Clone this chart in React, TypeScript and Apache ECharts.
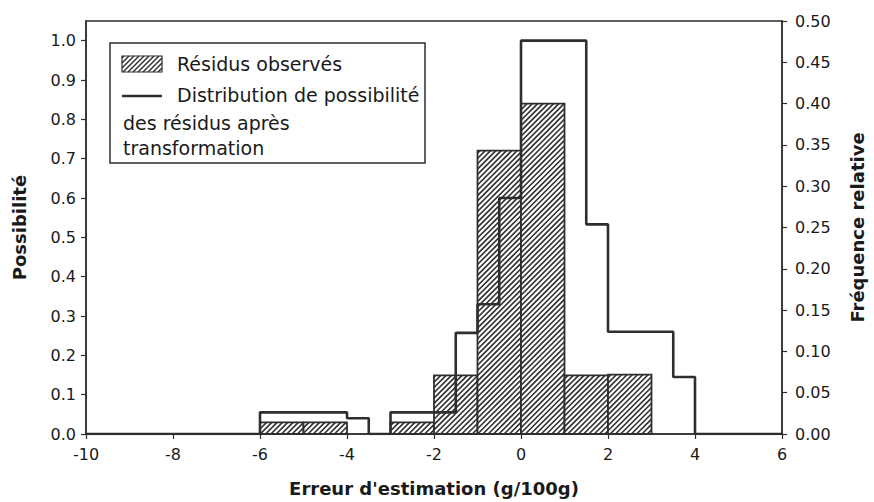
import React, { useEffect, useRef } from "react";
import * as echarts from "echarts";

// Observed residuals histogram (relative frequency, right axis)
const barStarts = [-6, -5, -3, -2, -1, 0, 1, 2];
const barEnds = [-5, -4, -2, -1, 0, 1, 2, 3];
const relFreq = [0.014, 0.014, 0.014, 0.071, 0.343, 0.4, 0.071, 0.072];

// Possibility distribution after transformation (step, left axis)
const stepX = [-10, -6, -4, -3.5, -3, -1.5, -1, -0.5, 0, 1.5, 2, 3.5, 4, 6];
const possibility = [0, 0.055, 0.04, 0, 0.055, 0.257, 0.33, 0.6, 1.0, 0.533, 0.26, 0.145, 0, 0];

const xTicks = { min: -10, max: 6, interval: 2 };
const leftTicks = { min: 0, max: 1.05, interval: 0.1 };
const rightTicks = { min: 0, max: 0.5, interval: 0.05 };

const xTitle = "Erreur d'estimation (g/100g)";
const leftTitle = "Possibilité";
const rightTitle = "Fréquence relative";
const legendBars = "Résidus observés";
const legendLine = ["Distribution de possibilité", "des résidus après", "transformation"];

const INK = "#2e2e2e";
const TXT = "#1a1a1a";
const FONT = "DejaVu Sans";

function hatchLines(left: number, top: number, right: number, bottom: number, s: number, lw: number) {
  const out: any[] = [];
  const cStart = Math.floor((left + top) / s) * s;
  for (let c = cStart; c <= right + bottom + s; c += s) {
    const xa = Math.max(left, c - bottom);
    const xb = Math.min(right, c - top);
    if (xb - xa > 0.3) {
      out.push({
        type: "line",
        shape: { x1: xa, y1: c - xa, x2: xb, y2: c - xb },
        style: { stroke: INK, lineWidth: lw },
        silent: true,
      });
    }
  }
  return out;
}

export default function App() {
  const ref = useRef<HTMLDivElement>(null);
  useEffect(() => {
    if (!ref.current) return;
    const chart = echarts.init(ref.current, null, { renderer: "svg" });
    const barData = barStarts.map((s, i) => [s, barEnds[i], relFreq[i]]);
    const lineData = stepX.map((x, i) => [x, possibility[i]]);

    const lgX = 110, lgY = 43;
    const legendChildren: any[] = [
      { type: "rect", shape: { x: lgX, y: lgY, width: 315, height: 120 }, style: { fill: "#fff", stroke: INK, lineWidth: 1.5 } },
      { type: "rect", shape: { x: 122, y: 56, width: 40, height: 16 }, style: { fill: "#fff", stroke: INK, lineWidth: 1.2 } },
      ...hatchLines(122, 56, 162, 72, 5, 1.5),
      { type: "text", x: 177, y: 64, style: { text: legendBars, font: `19px "${FONT}"`, fill: TXT, textVerticalAlign: "middle" } },
      { type: "line", shape: { x1: 122, y1: 96, x2: 162, y2: 96 }, style: { stroke: INK, lineWidth: 2.5 } },
      { type: "text", x: 177, y: 95, style: { text: legendLine[0], font: `19px "${FONT}"`, fill: TXT, textVerticalAlign: "middle" } },
      { type: "text", x: 123, y: 123, style: { text: legendLine[1], font: `19px "${FONT}"`, fill: TXT, textVerticalAlign: "middle" } },
      { type: "text", x: 123, y: 148, style: { text: legendLine[2], font: `19px "${FONT}"`, fill: TXT, textVerticalAlign: "middle" } },
    ];

    const axisCommon = {
      axisLine: { show: true, onZero: false, lineStyle: { color: INK, width: 1.5 } },
      axisTick: { show: true, inside: false, length: 5, lineStyle: { color: INK, width: 1.2 } },
      splitLine: { show: false },
      nameLocation: "middle" as const,
      nameTextStyle: { fontFamily: FONT, fontWeight: "bold", fontSize: 18, color: TXT },
    };

    chart.setOption({
      animation: false,
      backgroundColor: "#fff",
      grid: { left: 86, right: 89, top: 21, bottom: 68, show: true, borderColor: INK, borderWidth: 1.5, backgroundColor: "transparent" },
      xAxis: {
        type: "value",
        ...xTicks,
        ...axisCommon,
        name: xTitle,
        nameGap: 45,
        axisLabel: { fontFamily: FONT, fontSize: 16, color: TXT, margin: 12 },
      },
      yAxis: [
        {
          type: "value",
          position: "left",
          ...leftTicks,
          ...axisCommon,
          name: leftTitle,
          nameGap: 58,
          nameRotate: 90,
          axisLabel: {
            fontFamily: FONT, fontSize: 16, color: TXT, margin: 10, showMaxLabel: false,
            formatter: (v: number) => (v > 1.001 ? "" : v.toFixed(1)),
          },
        },
        {
          type: "value",
          position: "right",
          ...rightTicks,
          ...axisCommon,
          name: rightTitle,
          nameGap: 66,
          nameRotate: 90,
          axisLabel: { fontFamily: FONT, fontSize: 16, color: TXT, margin: 13, formatter: (v: number) => v.toFixed(2) },
        },
      ],
      series: [
        {
          type: "custom",
          name: legendBars,
          yAxisIndex: 1,
          encode: { x: [0, 1], y: 2 },
          data: barData,
          z: 2,
          renderItem: (params: any, api: any) => {
            const p0 = api.coord([api.value(0), 0]);
            const p1 = api.coord([api.value(1), api.value(2)]);
            const left = p0[0], bottom = p0[1], right = p1[0], top = p1[1];
            return {
              type: "group",
              children: [
                { type: "rect", shape: { x: left, y: top, width: right - left, height: bottom - top }, style: { fill: "#fff", stroke: null } },
                ...hatchLines(left, top, right, bottom, 5.3, 1.6),
                { type: "rect", shape: { x: left, y: top, width: right - left, height: bottom - top }, style: { fill: "none", stroke: INK, lineWidth: 1.8 } },
              ],
            };
          },
        },
        {
          type: "line",
          name: legendLine.join(" "),
          yAxisIndex: 0,
          data: lineData,
          step: "end",
          symbol: "none",
          z: 3,
          lineStyle: { color: INK, width: 2.6 },
        },
      ],
      graphic: [{ type: "group", children: legendChildren, z: 10 }],
    });
    return () => chart.dispose();
  }, []);
  return <div ref={ref} style={{ position: "absolute", left: 0, top: 0, width: 874, height: 502 }} />;
}
